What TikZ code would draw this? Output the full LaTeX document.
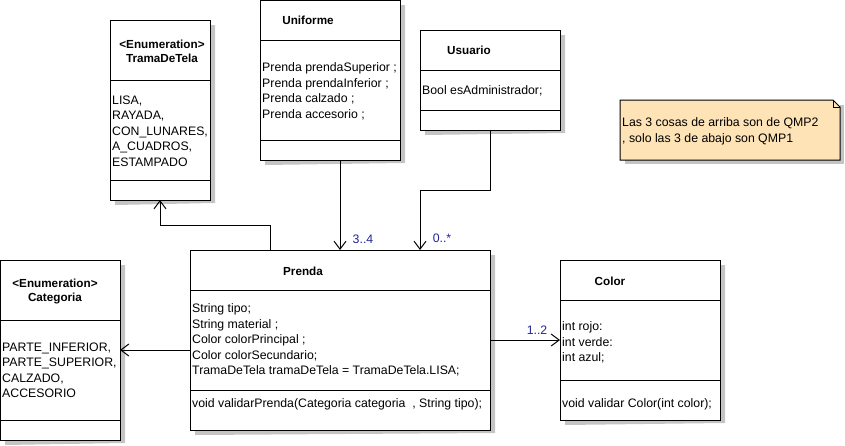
\documentclass[tikz,border=0pt]{standalone}
\usepackage{fontspec}
\setmainfont{Liberation Sans}
\usetikzlibrary{arrows.meta}
\definecolor{shadowgray}{RGB}{196,196,196}
\definecolor{notefill}{HTML}{FDE3B6}
\definecolor{multblue}{HTML}{22229A}
\begin{document}
\begin{tikzpicture}[x=1pt,y=-1pt,
  classbox/.style={inner sep=0pt, outer sep=0pt, anchor=north west},
  boxline/.style={draw=black, line width=1pt, fill=white},
  shadowline/.style={draw=shadowgray, line width=4pt},
  title/.style={font=\fontsize{11.7}{14}\selectfont\bfseries, inner sep=0pt, align=center},
  attrs/.style={font=\fontsize{12.3}{15.5}\selectfont, inner sep=0pt, anchor=north west, align=left},
  mult/.style={font=\fontsize{12.3}{14}\selectfont, text=multblue, inner sep=0pt},
  navarrow/.style={line width=1pt, -{Straight Barb[length=8pt,width=12pt,line width=1pt]}},
  divider/.style={line width=1pt}]
\useasboundingbox (0,0) rectangle (845,445);

% ---- class boxes ----
\node[classbox, minimum width=100pt, minimum height=180pt] (trama) at (110,20) {};
\node[classbox, minimum width=140pt, minimum height=160pt] (unif) at (260,0) {};
\node[classbox, minimum width=140pt, minimum height=100pt] (usu) at (420,30) {};
\node[classbox, minimum width=120pt, minimum height=180pt] (cat) at (0,260) {};
\node[classbox, minimum width=300pt, minimum height=180pt] (prenda) at (190,250) {};
\node[classbox, minimum width=160pt, minimum height=160pt] (color) at (560,260) {};

% ---- shadows: strips along right and bottom edges ----
\foreach \b in {trama,unif,usu,cat,prenda,color}{
  \draw[shadowline] ([xshift=3pt,yshift=-5pt]\b.north east) -- ([xshift=3pt,yshift=-1pt]\b.south east)
                    -- ([xshift=5pt,yshift=-3pt]\b.south west);
}

% ---- boxes ----
\foreach \b in {trama,unif,usu,cat,prenda,color}{
  \draw[boxline] (\b.north west) rectangle (\b.south east);
}

% ---- compartments ----
\draw[divider] ([yshift=-60pt]trama.north west) -- ([yshift=-60pt]trama.north east);
\draw[divider] ([yshift=-160pt]trama.north west) -- ([yshift=-160pt]trama.north east);
\draw[divider] ([yshift=-40pt]unif.north west) -- ([yshift=-40pt]unif.north east);
\draw[divider] ([yshift=-140pt]unif.north west) -- ([yshift=-140pt]unif.north east);
\draw[divider] ([yshift=-40pt]usu.north west) -- ([yshift=-40pt]usu.north east);
\draw[divider] ([yshift=-80pt]usu.north west) -- ([yshift=-80pt]usu.north east);
\draw[divider] ([yshift=-60pt]cat.north west) -- ([yshift=-60pt]cat.north east);
\draw[divider] ([yshift=-160pt]cat.north west) -- ([yshift=-160pt]cat.north east);
\draw[divider] ([yshift=-40pt]prenda.north west) -- ([yshift=-40pt]prenda.north east);
\draw[divider] ([yshift=-140pt]prenda.north west) -- ([yshift=-140pt]prenda.north east);
\draw[divider] ([yshift=-40pt]color.north west) -- ([yshift=-40pt]color.north east);
\draw[divider] ([yshift=-120pt]color.north west) -- ([yshift=-120pt]color.north east);

% ---- titles ----
\node[title] (tramaT) at (162,51) {<Enumeration>\\TramaDeTela};
\node[title] (unifT) at (308,20) {Uniforme};
\node[title] (usuT) at (469,50) {Usuario};
\node[title] (catT) at (55,291) {<Enumeration>\\Categoria};
\node[title] (prendaT) at (303,271) {Prenda};
\node[title] (colorT) at (610,281) {Color};

% ---- attributes / operations ----
\node[attrs] (tramaA) at (112,95.5) {LISA,\\RAYADA,\\CON\_LUNARES,\\A\_CUADROS,\\ESTAMPADO};
\node[attrs] (unifA) at (262,62.5) {Prenda prendaSuperior ;\\Prenda prendaInferior ;\\Prenda calzado ;\\Prenda accesorio ;};
\node[attrs] (usuA) at (422,85.5) {Bool esAdministrador;};
\node[attrs] (catA) at (2,342.5) {PARTE\_INFERIOR,\\PARTE\_SUPERIOR,\\CALZADO,\\ACCESORIO};
\node[attrs] (prendaA) at (192,303.5) {String tipo;\\String material ;\\Color colorPrincipal ;\\Color colorSecundario;\\TramaDeTela tramaDeTela = TramaDeTela.LISA;};
\node[attrs] (prendaO) at (192,398.5) {void validarPrenda(Categoria categoria~~, String tipo);};
\node[attrs] (colorA) at (562,321.5) {int rojo:\\int verde:\\int azul;};
\node[attrs] (colorO) at (562,398.5) {void validar Color(int color);};

% ---- note ----
\draw[shadowline] (842,105) -- (842,162) -- (625,162);
\draw[line width=1pt, fill=notefill] (620,100) -- (833,100) -- (840,107) -- (840,160) -- (620,160) -- cycle;
\draw[line width=1pt] (833,100) -- (833,107) -- (840,107);
\node[attrs] (noteT) at (622,117.5) {Las 3 cosas de arriba son de QMP2\\, solo las 3 de abajo son QMP1};

% ---- connectors ----
\coordinate (catlevel) at (0,350);
\coordinate (colorlevel) at (0,340);
\draw[navarrow] ([xshift=80pt]prenda.north west) -- ++(0,-25) -| (trama.south);
\draw[navarrow] ([xshift=80pt]unif.south west) -- ([xshift=150pt]prenda.north west);
\draw[navarrow] (usu.south) -- ++(0,60) -| ([xshift=230pt]prenda.north west);
\draw[navarrow] (prenda.west |- catlevel) -- (cat.east |- catlevel);
\draw[navarrow] (prenda.east |- colorlevel) -- (color.west |- colorlevel);

% ---- multiplicities ----
\node[mult] (m34) at (363,239) {3..4};
\node[mult] (m0s) at (442,238) {0..*};
\node[mult] (m12) at (537,330) {1..2};
\end{tikzpicture}
\end{document}
